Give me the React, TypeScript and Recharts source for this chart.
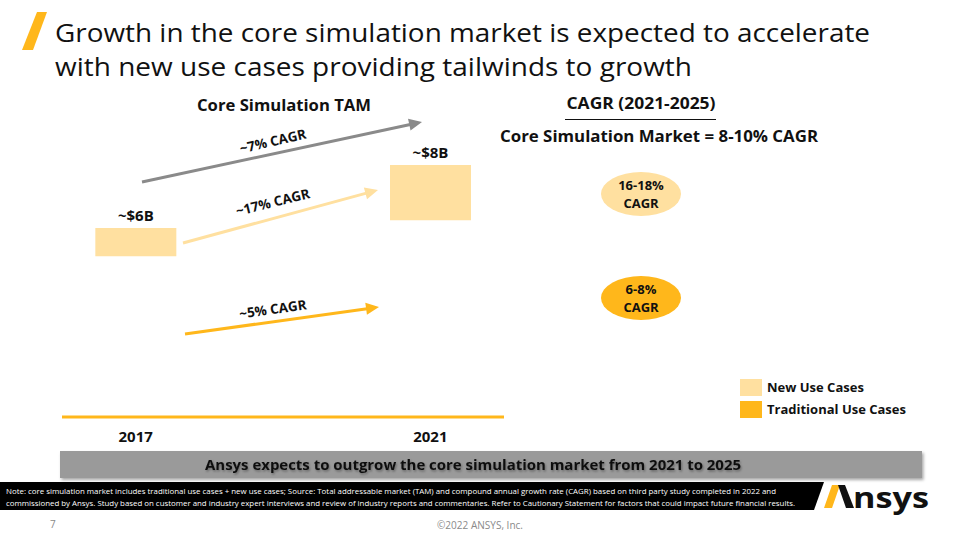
import React from "react";
import { BarChart, Bar, XAxis, YAxis, LabelList, Legend } from "recharts";

const years = [2017, 2021];
const traditionalUse = [5.1, 6.25];
const newUse = [0.9, 1.75];
const totalLabels = ["~$6B", "~$8B"];
const seriesNames = ["New Use Cases", "Traditional Use Cases"];
const seriesColors = ["#FFE0A0", "#FFB71B"];
const cagrLabels = ["~7% CAGR", "~17% CAGR", "~5% CAGR"];
const outlookLabels = [["16-18%", "CAGR"], ["6-8%", "CAGR"]];

const data = years.map((y, i) => ({
  year: y,
  traditional: traditionalUse[i],
  newUse: newUse[i],
  label: totalLabels[i],
}));

const FONT = '"Open Sans", "Noto Sans", sans-serif';

function Arrow({ x1, y1, x2, y2, color, w = 3, head = 13, hw = 6 }: any) {
  const a = Math.atan2(y2 - y1, x2 - x1);
  const bx = x2 - head * Math.cos(a);
  const by = y2 - head * Math.sin(a);
  const s = Math.sin(a);
  const c = Math.cos(a);
  const pts = `${x2},${y2} ${bx + hw * s},${by - hw * c} ${bx - hw * s},${by + hw * c}`;
  return (
    <g>
      <line x1={x1} y1={y1} x2={bx + c} y2={by + s} stroke={color} strokeWidth={w} />
      <polygon points={pts} fill={color} />
    </g>
  );
}

function LegendContent() {
  return (
    <div style={{ fontFamily: FONT }}>
      {seriesNames.map((n, i) => (
        <div key={n} style={{ display: "flex", alignItems: "center", height: 22 }}>
          <div style={{ width: 22, height: 17, background: seriesColors[i], marginRight: 5 }} />
          <span style={{ fontWeight: 700, fontSize: 13, color: "#111" }}>{n}</span>
        </div>
      ))}
    </div>
  );
}

export default function App() {
  return (
    <div
      style={{
        position: "absolute",
        left: 0,
        top: 0,
        width: 960,
        height: 540,
        background: "#fff",
        overflow: "hidden",
        fontFamily: FONT,
      }}
    >
      <div style={{ position: "absolute", left: 0, top: 0 }}>
        <BarChart
          width={960}
          height={540}
          data={data}
          margin={{ top: 102, right: 456, bottom: 93, left: 62 }}
        >
          <XAxis
            type="number"
            dataKey="year"
            domain={[2016, 2022]}
            ticks={years}
            height={30}
            tickLine={false}
            tickMargin={8}
            axisLine={{ stroke: "#FFB71B", strokeWidth: 3 }}
            tick={{ fill: "#111", fontSize: 15, fontWeight: 700, fontFamily: FONT }}
            tickFormatter={(v: number) => String(v)}
          />
          <YAxis hide type="number" domain={[0, 10]} />
          <Bar
            dataKey="traditional"
            name={seriesNames[1]}
            stackId="a"
            fill={seriesColors[1]}
            fillOpacity={0}
            barSize={81}
            isAnimationActive={false}
          />
          <Bar
            dataKey="newUse"
            name={seriesNames[0]}
            stackId="a"
            fill={seriesColors[0]}
            barSize={81}
            isAnimationActive={false}
          >
            <LabelList
              dataKey="label"
              position="top"
              offset={7}
              fill="#111"
              fontSize={15}
              fontWeight={700}
              fontFamily={FONT}
            />
          </Bar>
          <Legend
            layout="vertical"
            align="center"
            verticalAlign="middle"
            content={<LegendContent />}
            wrapperStyle={{ position: "absolute", left: 740, top: 376, width: 210 }}
          />
        </BarChart>
      </div>

      <svg
        width={960}
        height={540}
        style={{ position: "absolute", left: 0, top: 0, pointerEvents: "none" }}
        fontFamily={FONT}
      >
        <defs>
          <filter id="sh" x="-5%" y="-30%" width="110%" height="180%">
            <feDropShadow dx="1.5" dy="2" stdDeviation="1.5" floodColor="#000" floodOpacity="0.35" />
          </filter>
          <filter id="tsh" x="-5%" y="-30%" width="110%" height="180%">
            <feDropShadow dx="1" dy="1.5" stdDeviation="1" floodColor="#000" floodOpacity="0.35" />
          </filter>
        </defs>

        {/* title */}
        <polygon points="37,12 47,12 33,50 22,50" fill="#FFB71B" />
        <text x={55} y={42} fontSize={25} fill="#111" textLength={815} lengthAdjust="spacingAndGlyphs">
          Growth in the core simulation market is expected to accelerate
        </text>
        <text x={55} y={76} fontSize={25} fill="#111" textLength={637} lengthAdjust="spacingAndGlyphs">
          with new use cases providing tailwinds to growth
        </text>

        {/* left subtitle */}
        <text x={197} y={111} fontSize={16} fontWeight={700} fill="#111" textLength={174} lengthAdjust="spacingAndGlyphs">
          Core Simulation TAM
        </text>

        {/* arrows */}
        <Arrow x1={142} y1={182} x2={422} y2={122} color="#8A8A8A" />
        <Arrow x1={183} y1={243} x2={378} y2={190} color="#FFE0A0" />
        <Arrow x1={185} y1={334} x2={379} y2={307} color="#FFB71B" />
        <text x={273} y={146} fontSize={13.5} fontWeight={700} fill="#111" textAnchor="middle" transform="rotate(-13 273 142)">
          {cagrLabels[0]}
        </text>
        <text x={273} y={207} fontSize={13.5} fontWeight={700} fill="#111" textAnchor="middle" transform="rotate(-14 273 203)">
          {cagrLabels[1]}
        </text>
        <text x={273} y={314} fontSize={13.5} fontWeight={700} fill="#111" textAnchor="middle" transform="rotate(-8 273 310)">
          {cagrLabels[2]}
        </text>

        {/* right panel */}
        <text x={641} y={109} fontSize={16} fontWeight={700} fill="#111" textAnchor="middle" textLength={149} lengthAdjust="spacingAndGlyphs">
          CAGR (2021-2025)
        </text>
        <line x1={565} y1={119.5} x2={716} y2={119.5} stroke="#111" strokeWidth={1} />
        <text x={500} y={142} fontSize={16} fontWeight={700} fill="#111" textLength={318} lengthAdjust="spacingAndGlyphs">
          Core Simulation Market = 8-10% CAGR
        </text>

        <ellipse cx={641} cy={194} rx={40} ry={22} fill="#FFE0A0" />
        <text x={641} y={190} fontSize={13} fontWeight={700} fill="#111" textAnchor="middle">{outlookLabels[0][0]}</text>
        <text x={641} y={208} fontSize={13} fontWeight={700} fill="#111" textAnchor="middle">{outlookLabels[0][1]}</text>
        <ellipse cx={641} cy={298} rx={40} ry={22} fill="#FFB71B" />
        <text x={641} y={294} fontSize={13} fontWeight={700} fill="#111" textAnchor="middle">{outlookLabels[1][0]}</text>
        <text x={641} y={312} fontSize={13} fontWeight={700} fill="#111" textAnchor="middle">{outlookLabels[1][1]}</text>

        {/* banner */}
        <rect x={60} y={451} width={862} height={27} fill="#9A9A9A" filter="url(#sh)" />
        <text x={473} y={470} fontSize={15} fontWeight={700} fill="#111" textAnchor="middle" textLength={536} lengthAdjust="spacingAndGlyphs" filter="url(#tsh)">
          Ansys expects to outgrow the core simulation market from 2021 to 2025
        </text>

        {/* footer */}
        <polygon points="0,482 824,482 814,510 0,510" fill="#000" />
        <text x={6} y={494} fontSize={8} fill="#fff" textLength={770} lengthAdjust="spacingAndGlyphs">
          Note: core simulation market includes traditional use cases + new use cases;  Source: Total addressable market (TAM) and compound annual growth rate (CAGR) based on third party study completed in 2022 and
        </text>
        <text x={6} y={506} fontSize={8} fill="#fff" textLength={789} lengthAdjust="spacingAndGlyphs">
          commissioned by Ansys. Study based on customer and industry expert interviews and review of industry reports and commentaries. Refer to Cautionary Statement for factors that could impact future financial results.
        </text>

        {/* logo */}
        <polygon points="832,485 840,485 832,508 824,508" fill="#FFB71B" />
        <polygon points="838,485 845,485 854,508 846,508" fill="#111" />
        <text x={853} y={508} fontSize={29} fontWeight={700} fill="#111" textLength={76} lengthAdjust="spacingAndGlyphs">
          nsys
        </text>

        {/* page footer */}
        <text x={50} y={528} fontSize={10} fill="#8A8A8A">7</text>
        <text x={480} y={529} fontSize={10} fill="#8A8A8A" textAnchor="middle" textLength={86} lengthAdjust="spacingAndGlyphs">
          ©2022 ANSYS, Inc.
        </text>
      </svg>
    </div>
  );
}
